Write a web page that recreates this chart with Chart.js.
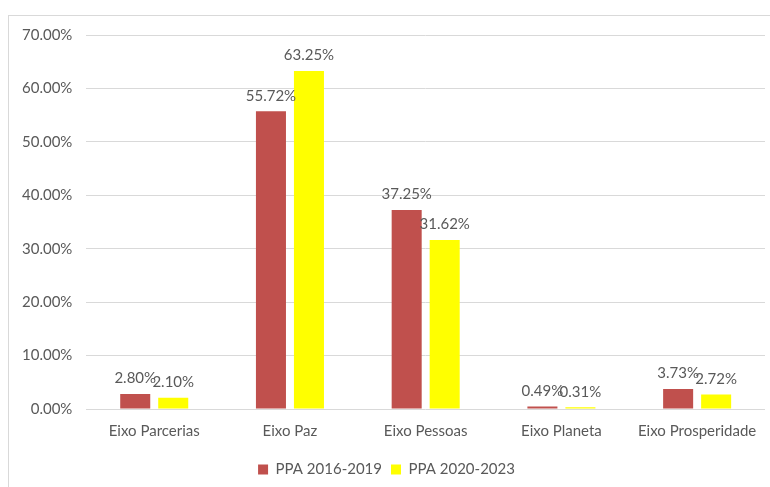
<!DOCTYPE html>
<html lang="pt">
<head>
<meta charset="UTF-8">
<title>PPA por eixo</title>
<style>
    body {
        margin: 0;
        background: #fff;
        font-family: Lato, sans-serif;
    }
    .wrap {
        position: relative;
        width: 770px;
        height: 487px;
        overflow: hidden;
    }
    .frame {
        position: absolute;
        left: 8px;
        top: 15px;
        width: 800px;
        height: 500px;
        border: 1px solid #d9d9d9;
        pointer-events: none;
    }
</style>
<script src="https://cdn.jsdelivr.net/npm/chart.js"></script>
</head>
<body>
<div class="wrap">
    <canvas id="chart" width="770" height="487"></canvas>
    <div class="frame"></div>
</div>
<script>
    const categories = ['Eixo Parcerias', 'Eixo Paz', 'Eixo Pessoas', 'Eixo Planeta', 'Eixo Prosperidade'];
    const ppa2016 = [2.80, 55.72, 37.25, 0.49, 3.73];
    const ppa2020 = [2.10, 63.25, 31.62, 0.31, 2.72];
    const seriesNames = ['PPA 2016-2019', 'PPA 2020-2023'];

    const textColor = '#595959';

    // draws the value above each bar
    const valueLabels = {
        id: 'valueLabels',
        afterDatasetsDraw(chart) {
            const ctx = chart.ctx;
            ctx.save();
            ctx.font = '15px Lato, sans-serif';
            ctx.fillStyle = textColor;
            ctx.textAlign = 'center';
            ctx.textBaseline = 'bottom';
            chart.data.datasets.forEach((ds, i) => {
                chart.getDatasetMeta(i).data.forEach((bar, j) => {
                    ctx.fillText(ds.data[j].toFixed(2) + '%', bar.x, bar.y - 8);
                });
            });
            ctx.restore();
        }
    };

    new Chart(document.getElementById('chart'), {
        type: 'bar',
        data: {
            labels: categories,
            datasets: [{
                label: seriesNames[0],
                data: ppa2016,
                backgroundColor: '#C0504D',
                categoryPercentage: 0.56,
                barPercentage: 0.79
            }, {
                label: seriesNames[1],
                data: ppa2020,
                backgroundColor: '#FFFF00',
                categoryPercentage: 0.56,
                barPercentage: 0.79
            }]
        },
        options: {
            responsive: false,
            animation: false,
            layout: {
                padding: { left: 8, right: 5, top: 35, bottom: 0 }
            },
            scales: {
                x: {
                    grid: { display: false, drawTicks: false },
                    border: { display: false },
                    ticks: {
                        color: textColor,
                        font: { family: 'Lato', size: 15 },
                        padding: 13
                    }
                },
                y: {
                    min: 0,
                    max: 70,
                    grid: { color: '#d9d9d9', drawTicks: false },
                    border: { display: false },
                    ticks: {
                        stepSize: 10,
                        color: textColor,
                        font: { family: 'Lato', size: 15 },
                        padding: 14,
                        callback: v => v.toFixed(2) + '%'
                    }
                }
            },
            plugins: {
                legend: {
                    position: 'bottom',
                    labels: {
                        boxWidth: 10,
                        boxHeight: 10,
                        color: textColor,
                        font: { family: 'Lato', size: 15 },
                        padding: 9
                    }
                },
                tooltip: { enabled: false }
            }
        },
        plugins: [valueLabels]
    });
</script>
</body>
</html>
